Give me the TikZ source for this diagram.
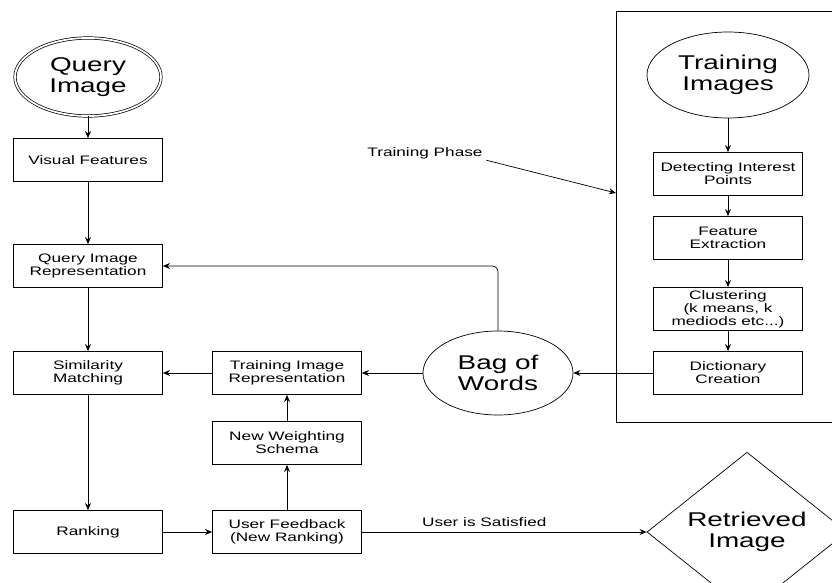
\documentclass[tikz,border=0pt]{standalone}
\usepackage{fontspec}
\setmainfont[FakeStretch=1.4]{Liberation Sans}
\usetikzlibrary{arrows.meta,shapes.geometric}
\tikzset{
  box/.style={draw, minimum width=4.47cm, minimum height=1.29cm, align=center,
    inner sep=0pt, font=\fontsize{10.5}{11}\selectfont},
  bigtext/.style={draw, align=center, inner sep=0pt, font=\fontsize{17}{18.5}\selectfont},
  lbl/.style={font=\fontsize{10.5}{11}\selectfont, inner sep=1pt},
  flow/.style={-{Stealth[length=6pt,width=5pt]}},
}

\begin{document}
\begin{tikzpicture}[x=0.03cm, y=-0.03cm, line width=0.6pt]
\clip (0,0) rectangle (832,583);

% query side
\node[bigtext, ellipse, double, double distance=1.5pt, minimum width=4.38cm, minimum height=2.34cm] (query) at (88,77) {Query\\Image};
\node[box] (vis) at (88,160) {Visual Features};
\node[box] (qir) at (88,266) {Query Image\\Representation};
\node[box] (sim) at (88,373) {Similarity\\Matching};
\node[box] (rank) at (88,532) {Ranking};

% feedback column
\node[box] (tir) at (287,373) {Training Image\\Representation};
\node[box] (nws) at (287,443) {New Weighting\\Schema};
\node[box] (ufb) at (287,532) {User Feedback\\(New Ranking)};

\node[bigtext, ellipse, minimum width=4.5cm, minimum height=2.52cm] (bow) at (498,373) {Bag of\\Words};
\node[bigtext, diamond, minimum width=6cm, minimum height=3.36cm] (ret) at (747,532) {Retrieved\\Image};

% training phase
\draw (616,11) rectangle (860,422);
\coordinate (phaseedge) at (616,193);
\node[lbl] (phaselbl) at (425,153) {Training Phase};
\node[bigtext, ellipse, minimum width=4.86cm, minimum height=2.58cm] (train) at (728,75) {Training\\Images};
\node[box] (dip) at (728,174) {Detecting Interest\\Points};
\node[box] (fex) at (728,238) {Feature\\Extraction};
\node[box] (clu) at (728,309) {Clustering\\(k means, k\\mediods etc...)};
\node[box] (dic) at (728,373) {Dictionary\\Creation};

% connectors
\draw[flow] (query) -- (vis);
\draw[flow] (vis) -- (qir);
\draw[flow] (qir) -- (sim);
\draw[flow] (sim) -- (rank);
\draw[flow] (rank) -- (ufb);
\draw[flow] (ufb) -- (nws);
\draw[flow] (nws) -- (tir);
\draw[flow] (tir) -- (sim);
\draw[flow] (bow) -- (tir);
\draw[flow, rounded corners=5pt] (bow.north) |- (qir.east);
\draw[flow] (ufb) -- node[lbl, above=3pt, pos=0.43] {User is Satisfied} (ret.west);

\draw[flow] (train) -- (dip);
\draw[flow] (dip) -- (fex);
\draw[flow] (fex) -- (clu);
\draw[flow] (clu) -- (dic);
\draw[flow] (dic) -- (bow);
\draw[flow] ([xshift=2pt]phaselbl.south east) -- (phaseedge);
\end{tikzpicture}
\end{document}
